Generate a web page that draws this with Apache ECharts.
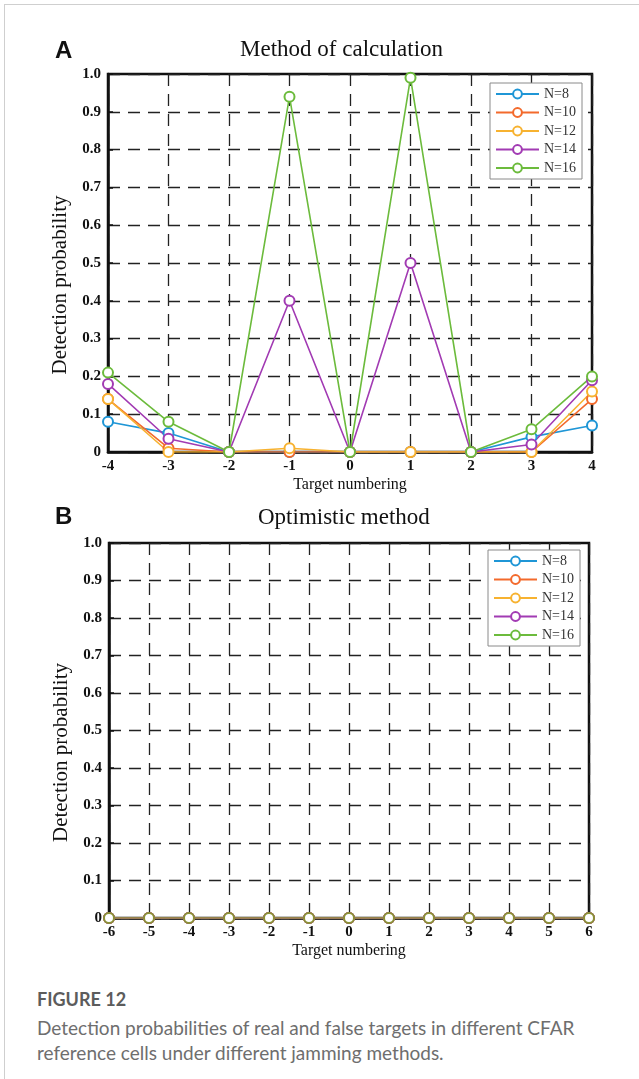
<!DOCTYPE html>
<html>
<head>
<meta charset="utf-8">
<script src="https://cdn.jsdelivr.net/npm/echarts@6/dist/echarts.min.js"></script>
<style>
  body { margin: 0; background: #fff; }
  .frame {
    position: absolute; left: 4px; top: 4px; width: 640px; height: 1080px;
    border-top: 1px solid #cfcfcf; border-left: 1px solid #cfcfcf;
  }
  #chart { position: absolute; left: 0; top: 0; width: 639px; height: 975px; }
  .fig-label {
    position: absolute; left: 37px; top: 988px;
    font-family: Lato, "Noto Sans", sans-serif; font-weight: 700;
    font-size: 18px; color: #5c5c5c;
  }
  .fig-text {
    position: absolute; left: 37px; top: 1015px; width: 600px;
    font-family: Lato, "Noto Sans", sans-serif; font-size: 19px;
    line-height: 25px; color: #6e6e6e;
  }
</style>
</head>
<body>
<div class="frame"></div>
<div id="chart"></div>
<div class="fig-label">FIGURE 12</div>
<div class="fig-text">Detection probabilities of real and false targets in different CFAR<br>reference cells under different jamming methods.</div>
<script>
// panel A: method of calculation
const targetsA = [-4, -3, -2, -1, 0, 1, 2, 3, 4];
const n8A  = [0.08, 0.05, 0, 0, 0, 0, 0, 0.04, 0.07];
const n10A = [0.14, 0.01, 0, 0, 0, 0, 0, 0, 0.14];
const n12A = [0.14, 0, 0, 0.01, 0, 0, 0, 0, 0.16];
const n14A = [0.18, 0.035, 0, 0.40, 0, 0.50, 0, 0.02, 0.19];
const n16A = [0.21, 0.08, 0, 0.94, 0, 0.99, 0, 0.06, 0.20];

// panel B: optimistic method
const targetsB = [-6, -5, -4, -3, -2, -1, 0, 1, 2, 3, 4, 5, 6];
const n8B  = [0, 0, 0, 0, 0, 0, 0, 0, 0, 0, 0, 0, 0];
const n10B = [0, 0, 0, 0, 0, 0, 0, 0, 0, 0, 0, 0, 0];
const n12B = [0, 0, 0, 0, 0, 0, 0, 0, 0, 0, 0, 0, 0];
const n14B = [0, 0, 0, 0, 0, 0, 0, 0, 0, 0, 0, 0, 0];
const n16B = [0, 0, 0, 0, 0, 0, 0, 0, 0, 0, 0, 0, 0];

const seriesNames = ["N=8", "N=10", "N=12", "N=14", "N=16"];

const lineColors = ["#1f96d6", "#f36a2c", "#f7b230", "#a23bb3", "#6cbb3c"];
const bottomColors = ["#1f96d6", "#f36a2c", "#f7b230", "#a23bb3", "#8a9235"];

const serif = "Liberation Serif";
const chart = echarts.init(document.getElementById("chart"));

function makeX(idx, min, max) {
  return {
    gridIndex: idx, type: "value", min: min, max: max, interval: 1,
    name: "Target numbering", nameLocation: "middle", nameGap: 25,
    nameTextStyle: { fontFamily: serif, fontSize: 16, color: "#111" },
    axisLine: { show: true, onZero: false, lineStyle: { color: "#111", width: 2.5 } },
    axisTick: { show: true, inside: true, length: 5, lineStyle: { color: "#111", width: 1.5 } },
    axisLabel: { fontFamily: serif, fontWeight: "bold", fontSize: 15, color: "#111", margin: 7 },
    splitLine: { show: true, lineStyle: { color: "#222", width: 1.3, type: [12, 8] } }
  };
}
function makeY(idx) {
  return {
    gridIndex: idx, type: "value", min: 0, max: 1, interval: 0.1,
    name: "Detection probability", nameLocation: "middle", nameGap: 36,
    nameTextStyle: { fontFamily: serif, fontSize: 21, color: "#111", padding: [0, 44, 0, 0] },
    axisLine: { show: true, onZero: false, lineStyle: { color: "#111", width: 2.5 } },
    axisTick: { show: true, inside: true, length: 5, lineStyle: { color: "#111", width: 1.5 } },
    axisLabel: {
      fontFamily: serif, fontWeight: "bold", fontSize: 15, color: "#111", margin: 7,
      formatter: (v) => (v === 0 ? "0" : v.toFixed(1))
    },
    splitLine: { show: true, lineStyle: { color: "#222", width: 1.3, type: [12, 8] } }
  };
}
function makeSeries(idx, xs, values, name, color) {
  return {
    name: name, type: "line", xAxisIndex: idx, yAxisIndex: idx,
    data: xs.map((x, i) => [x, values[i]]),
    symbol: "emptyCircle", symbolSize: 10,
    lineStyle: { color: color, width: 1.6 },
    itemStyle: { color: color, borderWidth: 1.2 },
    emphasis: { disabled: true }, animation: false
  };
}
function makeLegend(left, top) {
  return {
    left: left, top: top, orient: "vertical",
    data: seriesNames, itemWidth: 43, itemHeight: 11, itemGap: 4.5,
    padding: [4, 6, 4, 5],
    borderColor: "#8a8a8a", borderWidth: 1, backgroundColor: "#fff",
    textStyle: { fontFamily: serif, fontSize: 14, lineHeight: 14, color: "#333" }
  };
}

const dataA = [n8A, n10A, n12A, n14A, n16A];
const dataB = [n8B, n10B, n12B, n14B, n16B];

const option = {
  backgroundColor: "transparent",
  animation: false,
  title: [
    { text: "A", left: 50, top: 34, textStyle: { fontFamily: "Liberation Sans", fontWeight: "bold", fontSize: 24, color: "#111" } },
    { text: "Method of calculation", left: 235, top: 33, textStyle: { fontFamily: serif, fontWeight: "normal", fontSize: 23, color: "#111" } },
    { text: "B", left: 50, top: 500, textStyle: { fontFamily: "Liberation Sans", fontWeight: "bold", fontSize: 24, color: "#111" } },
    { text: "Optimistic method", left: 253, top: 501, textStyle: { fontFamily: serif, fontWeight: "normal", fontSize: 23, color: "#111" } }
  ],
  legend: [makeLegend(490, 83), makeLegend(488, 550)],
  grid: [
    { left: 108, top: 74, width: 484, height: 378, show: true, borderColor: "#111", borderWidth: 2.5, backgroundColor: "#fff" },
    { left: 109, top: 543, width: 480, height: 375, show: true, borderColor: "#111", borderWidth: 2.5, backgroundColor: "#fff" }
  ],
  xAxis: [makeX(0, -4, 4), makeX(1, -6, 6)],
  yAxis: [makeY(0), makeY(1)],
  series: [
    ...seriesNames.map((n, i) => makeSeries(0, targetsA, dataA[i], n, lineColors[i])),
    ...seriesNames.map((n, i) => makeSeries(1, targetsB, dataB[i], n, bottomColors[i]))
  ]
};
chart.setOption(option);
</script>
</body>
</html>
